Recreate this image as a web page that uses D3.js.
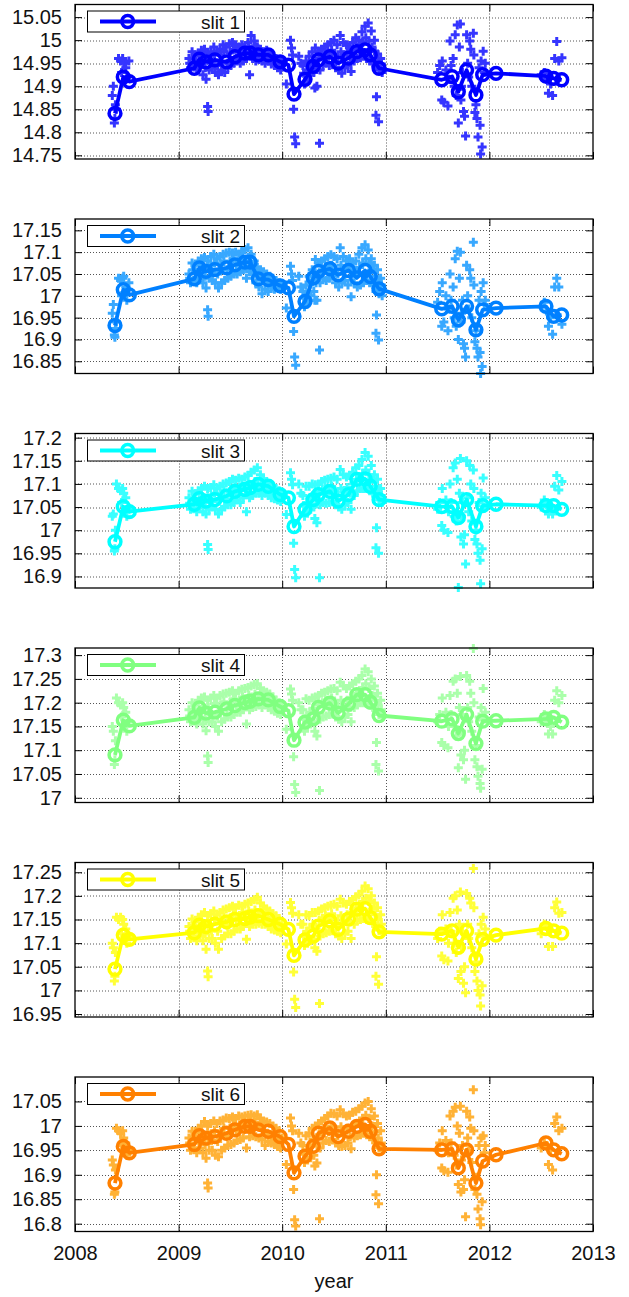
<!DOCTYPE html>
<html>
<head>
<meta charset="utf-8">
<script src="https://cdn.jsdelivr.net/npm/d3@7"></script>
<style>
  html, body { margin: 0; padding: 0; background: #fff; }
  svg { display: block; }
</style>
</head>
<body>
<div id="chart"></div>
<script>
// ---- x axis ----
const years = [2008, 2009, 2010, 2011, 2012, 2013];

// ---- averaged measurements (line + open circles), shared epochs ----
const meanYears = [
  2008.386, 2008.466, 2008.524,
  2009.152, 2009.200, 2009.264, 2009.350, 2009.464, 2009.544, 2009.640, 2009.690, 2009.770, 2009.866, 2009.980, 2010.060,
  2010.114, 2010.220, 2010.300, 2010.350, 2010.460, 2010.540, 2010.640, 2010.720, 2010.800, 2010.850, 2010.935,
  2011.540, 2011.640, 2011.700, 2011.780, 2011.870, 2011.935,
  2012.064, 2012.546, 2012.620, 2012.698
];
const slit1Mean = [
  14.841, 14.920, 14.910,
  14.939, 14.959, 14.953, 14.957, 14.953, 14.964, 14.972, 14.972, 14.968, 14.968, 14.953, 14.946,
  14.883, 14.915, 14.943, 14.957, 14.964, 14.950, 14.961, 14.975, 14.979, 14.968, 14.939,
  14.914, 14.921, 14.888, 14.935, 14.881, 14.925,
  14.928, 14.922, 14.917, 14.914
];
const slit2Mean = [
  16.932, 17.014, 17.002,
  17.039, 17.064, 17.056, 17.060, 17.064, 17.071, 17.077, 17.077, 17.039, 17.037, 17.023, 17.018,
  16.953, 16.987, 17.041, 17.056, 17.062, 17.048, 17.058, 17.041, 17.058, 17.044, 17.016,
  16.970, 16.976, 16.945, 16.976, 16.922, 16.968,
  16.972, 16.976, 16.953, 16.956
];
const slit3Mean = [
  16.975, 17.051, 17.040,
  17.056, 17.068, 17.063, 17.066, 17.074, 17.084, 17.088, 17.092, 17.099, 17.095, 17.077, 17.070,
  17.008, 17.045, 17.066, 17.077, 17.084, 17.063, 17.077, 17.110, 17.111, 17.095, 17.066,
  17.051, 17.051, 17.027, 17.066, 17.008, 17.053,
  17.056, 17.053, 17.053, 17.045
];
const slit4Mean = [
  17.090, 17.163, 17.151,
  17.169, 17.189, 17.178, 17.180, 17.187, 17.194, 17.200, 17.203, 17.208, 17.206, 17.192, 17.183,
  17.121, 17.159, 17.166, 17.190, 17.199, 17.178, 17.197, 17.217, 17.217, 17.201, 17.173,
  17.161, 17.166, 17.135, 17.175, 17.114, 17.161,
  17.162, 17.166, 17.169, 17.159
];
const slit5Mean = [
  17.045, 17.117, 17.108,
  17.122, 17.138, 17.135, 17.140, 17.145, 17.150, 17.152, 17.155, 17.158, 17.150, 17.140, 17.129,
  17.074, 17.107, 17.115, 17.136, 17.147, 17.129, 17.151, 17.172, 17.173, 17.154, 17.124,
  17.119, 17.126, 17.091, 17.126, 17.066, 17.108,
  17.117, 17.131, 17.126, 17.121
];
const slit6Mean = [
  16.883, 16.958, 16.945,
  16.962, 16.980, 16.975, 16.978, 16.985, 16.992, 16.999, 16.999, 16.992, 16.989, 16.978, 16.962,
  16.904, 16.938, 16.958, 16.985, 16.996, 16.978, 16.989, 16.999, 17.003, 16.989, 16.953,
  16.951, 16.953, 16.914, 16.951, 16.883, 16.928,
  16.941, 16.965, 16.951, 16.943
];

// ---- individual measurements (plus markers), shared epochs ----
const scatterYears = [
  // 2008 campaign
  2008.36, 2008.37, 2008.38, 2008.385, 2008.39, 2008.40, 2008.42, 2008.44, 2008.45, 2008.46, 2008.47, 2008.49, 2008.50, 2008.52,
  // 2009 season
  2009.10, 2009.115, 2009.13, 2009.145, 2009.16, 2009.175, 2009.19, 2009.205, 2009.22, 2009.235,
  2009.25, 2009.265, 2009.28, 2009.295, 2009.31, 2009.325, 2009.34, 2009.355, 2009.37, 2009.385,
  2009.40, 2009.415, 2009.43, 2009.445, 2009.46, 2009.475, 2009.49, 2009.505, 2009.52, 2009.535,
  2009.55, 2009.565, 2009.58, 2009.595, 2009.61, 2009.625, 2009.64, 2009.655, 2009.67, 2009.685,
  2009.70, 2009.715, 2009.73, 2009.745, 2009.76, 2009.775, 2009.79, 2009.805, 2009.82, 2009.835,
  2009.85, 2009.865, 2009.88, 2009.895, 2009.91, 2009.925, 2009.94, 2009.955, 2009.97, 2009.985,
  2009.28, 2009.285,
  // turn of 2010
  2010.00, 2010.04, 2010.08, 2010.09, 2010.10, 2010.11, 2010.12, 2010.13, 2010.16, 2010.18,
  // 2010 season
  2010.20, 2010.215, 2010.23, 2010.245, 2010.26, 2010.275, 2010.29, 2010.305, 2010.32, 2010.335,
  2010.35, 2010.365, 2010.38, 2010.395, 2010.41, 2010.425, 2010.44, 2010.455, 2010.47, 2010.485,
  2010.50, 2010.515, 2010.53, 2010.545, 2010.56, 2010.575, 2010.59, 2010.605, 2010.62, 2010.635,
  2010.65, 2010.665, 2010.68, 2010.695, 2010.71, 2010.725, 2010.74, 2010.755, 2010.77, 2010.785,
  2010.80, 2010.815, 2010.83, 2010.845, 2010.86, 2010.875, 2010.89, 2010.905, 2010.92, 2010.935,
  2010.95, 2010.965,
  2010.315, 2010.36, 2010.91, 2010.905, 2010.93,
  // 2011 season
  2011.50, 2011.52, 2011.54, 2011.545, 2011.56, 2011.58, 2011.60, 2011.605, 2011.62, 2011.63,
  2011.65, 2011.66, 2011.67, 2011.68, 2011.69, 2011.70, 2011.71, 2011.72, 2011.725, 2011.73,
  2011.74, 2011.75, 2011.76, 2011.77, 2011.78, 2011.79, 2011.80, 2011.81, 2011.82, 2011.83,
  2011.845, 2011.85, 2011.86, 2011.87, 2011.88, 2011.89, 2011.90, 2011.91, 2011.915, 2011.92,
  2011.93, 2011.94, 2011.95, 2011.96,
  // 2012 season
  2012.50, 2012.53, 2012.55, 2012.57, 2012.59, 2012.61, 2012.63, 2012.65, 2012.67, 2012.70,
  // additional 2009 exposures
  2009.107, 2009.137, 2009.167, 2009.197, 2009.227, 2009.257, 2009.287, 2009.317, 2009.347, 2009.377,
  2009.407, 2009.437, 2009.467, 2009.497, 2009.527, 2009.557, 2009.587, 2009.617, 2009.647, 2009.677,
  2009.707, 2009.737, 2009.767, 2009.797, 2009.827, 2009.857, 2009.887, 2009.917, 2009.947, 2009.977,
  // additional 2010 exposures
  2010.207, 2010.237, 2010.267, 2010.297, 2010.327, 2010.357, 2010.387, 2010.417, 2010.447, 2010.477,
  2010.507, 2010.537, 2010.567, 2010.597, 2010.627, 2010.657, 2010.687, 2010.717, 2010.747, 2010.777,
  2010.807, 2010.837, 2010.867, 2010.897, 2010.927, 2010.957
];

const slit1Scatter = [
  14.880, 14.900, 14.820, 14.830, 14.860, 14.850, 14.960, 14.955, 14.930, 14.960, 14.950, 14.940, 14.920, 14.955,
  14.960, 14.940, 14.975, 14.945, 14.968, 14.935, 14.972, 14.945, 14.978, 14.925,
  14.980, 14.915, 14.972, 14.935, 14.975, 14.940, 14.985, 14.930, 14.975, 14.925,
  14.980, 14.935, 14.990, 14.930, 14.985, 14.940, 14.992, 14.945, 14.995, 14.950,
  14.990, 14.955, 14.985, 14.950, 14.990, 14.955, 14.985, 14.960, 14.995, 14.925,
  15.010, 14.960, 14.998, 14.955, 14.985, 14.958, 14.980, 14.955, 14.975, 14.950,
  14.978, 14.955, 14.972, 14.948, 14.965, 14.945, 14.960, 14.940, 14.958, 14.935,
  14.856, 14.845,
  14.955, 14.905, 15.000, 14.983, 14.968, 14.850, 14.790, 14.775, 14.965, 14.950,
  14.945, 14.905, 14.955, 14.915, 14.965, 14.925, 14.975, 14.930, 14.983, 14.900,
  14.975, 14.935, 14.980, 14.945, 14.985, 14.950, 14.990, 14.945, 14.995, 14.950,
  15.000, 14.940, 14.990, 14.935, 15.010, 14.928, 14.995, 14.940, 14.990, 14.945,
  14.985, 14.932, 14.995, 14.955, 15.005, 14.960, 15.000, 14.962, 15.018, 14.965,
  15.030, 14.960, 15.037, 14.955, 15.020, 14.950, 15.000, 14.945, 14.970, 14.935,
  14.960, 14.930,
  14.896, 14.776, 14.877, 14.837, 14.823,
  14.930, 14.945, 14.870, 14.955, 14.865, 14.935, 14.857, 14.915, 14.998, 14.945,
  14.960, 14.900, 15.012, 14.880, 15.033, 14.820, 14.985, 15.035, 14.870, 14.900,
  14.930, 14.845, 14.835, 14.792, 15.012, 14.950, 14.920, 14.998, 14.980, 14.900,
  15.015, 14.968, 14.843, 14.860, 14.830, 14.790, 14.940, 14.815, 14.753, 14.955,
  14.768, 14.976, 14.930, 14.950,
  14.925, 14.930, 14.915, 14.885, 14.905, 14.880, 14.960, 14.997, 14.955, 14.962,
  14.950, 14.962, 14.955, 14.948, 14.966, 14.940, 14.962, 14.950, 14.970, 14.945,
  14.968, 14.975, 14.950, 14.972, 14.980, 14.962, 14.975, 14.982, 14.970, 14.985,
  14.978, 14.988, 14.968, 14.975, 14.962, 14.968, 14.960, 14.955, 14.950, 14.948,
  14.928, 14.935, 14.948, 14.955, 14.945, 14.962, 14.968, 14.972, 14.965, 14.978,
  14.970, 14.962, 14.975, 14.968, 14.972, 14.960, 14.980, 14.985, 14.988, 14.995,
  15.005, 14.998, 14.985, 14.975, 14.955, 14.948
];
const slit2Scatter = [
  16.960, 16.980, 16.910, 16.905, 16.925, 16.940, 17.040, 17.035, 17.000, 17.040, 17.045, 17.020, 16.990, 17.030,
  17.050, 17.030, 17.075, 17.035, 17.070, 17.030, 17.080, 17.040, 17.085, 17.030,
  17.088, 17.018, 17.080, 17.040, 17.090, 17.035, 17.095, 17.030, 17.085, 17.018,
  17.090, 17.030, 17.095, 17.035, 17.098, 17.040, 17.100, 17.045, 17.098, 17.050,
  17.100, 17.050, 17.095, 17.055, 17.102, 17.060, 17.106, 17.040, 17.110, 17.055,
  17.095, 17.050, 17.080, 17.030, 17.065, 17.020, 17.060, 17.005, 17.055, 17.015,
  17.050, 17.010, 17.045, 17.020, 17.040, 17.015, 17.035, 17.020, 17.030, 17.015,
  16.968, 16.953,
  17.025, 16.972, 17.068, 17.050, 17.035, 16.918, 16.860, 16.841, 17.045, 17.020,
  17.010, 16.975, 17.025, 16.985, 17.045, 17.000, 17.060, 17.010, 17.083, 16.990,
  17.075, 17.030, 17.080, 17.040, 17.085, 17.035, 17.090, 17.040, 17.094, 17.045,
  17.090, 17.030, 17.085, 17.020, 17.110, 17.030, 17.090, 17.035, 17.080, 17.025,
  17.085, 16.998, 17.075, 17.030, 17.080, 17.020, 17.095, 17.025, 17.110, 17.030,
  17.117, 17.035, 17.105, 17.030, 17.085, 17.025, 17.070, 17.010, 17.060, 17.005,
  17.040, 17.000,
  16.990, 16.876, 16.956, 16.914, 16.899,
  16.985, 17.010, 16.930, 17.030, 16.940, 17.000, 16.920, 16.970, 17.050, 16.990,
  17.020, 16.950, 17.085, 16.930, 17.102, 16.900, 17.040, 17.100, 16.940, 16.960,
  16.990, 16.890, 16.880, 16.860, 17.070, 17.000, 16.970, 17.060, 17.040, 16.950,
  17.123, 17.025, 16.895, 16.920, 16.880, 16.860, 16.990, 16.870, 16.822, 17.010,
  16.838, 17.030, 16.980, 16.990,
  16.975, 16.985, 16.965, 16.930, 16.950, 16.912, 17.020, 17.040, 17.020, 16.935,
  17.040, 17.060, 17.052, 17.048, 17.070, 17.045, 17.068, 17.055, 17.075, 17.050,
  17.072, 17.080, 17.060, 17.078, 17.085, 17.070, 17.082, 17.090, 17.075, 17.088,
  17.070, 17.060, 17.045, 17.050, 17.035, 17.040, 17.030, 17.028, 17.025, 17.022,
  16.995, 17.005, 17.025, 17.035, 17.030, 17.050, 17.060, 17.065, 17.055, 17.070,
  17.060, 17.050, 17.070, 17.060, 17.065, 17.045, 17.060, 17.050, 17.065, 17.075,
  17.085, 17.075, 17.060, 17.045, 17.035, 17.025
];
const slit3Scatter = [
  17.030, 17.035, 16.955, 16.960, 17.000, 17.100, 17.090, 17.085, 17.060, 17.090, 17.080, 17.070, 17.030, 17.045,
  17.070, 17.045, 17.084, 17.048, 17.078, 17.040, 17.085, 17.050, 17.090, 17.040,
  17.095, 17.035, 17.090, 17.045, 17.092, 17.050, 17.098, 17.045, 17.090, 17.035,
  17.095, 17.045, 17.100, 17.050, 17.102, 17.055, 17.105, 17.055, 17.110, 17.060,
  17.108, 17.065, 17.112, 17.060, 17.110, 17.070, 17.115, 17.040, 17.118, 17.070,
  17.125, 17.075, 17.130, 17.080, 17.135, 17.080, 17.120, 17.075, 17.110, 17.080,
  17.105, 17.075, 17.100, 17.070, 17.095, 17.068, 17.090, 17.065, 17.085, 17.062,
  16.969, 16.958,
  17.080, 17.034, 17.124, 17.110, 17.098, 16.972, 16.915, 16.897, 17.100, 17.080,
  17.075, 17.030, 17.095, 17.040, 17.095, 17.045, 17.100, 17.050, 17.098, 17.016,
  17.100, 17.055, 17.105, 17.060, 17.108, 17.058, 17.110, 17.060, 17.112, 17.062,
  17.115, 17.055, 17.110, 17.050, 17.131, 17.045, 17.120, 17.055, 17.115, 17.060,
  17.118, 17.045, 17.125, 17.075, 17.135, 17.085, 17.140, 17.090, 17.153, 17.090,
  17.168, 17.090, 17.160, 17.085, 17.140, 17.080, 17.120, 17.075, 17.110, 17.065,
  17.090, 17.060,
  17.025, 16.897, 17.005, 16.962, 16.950,
  17.045, 17.060, 17.010, 17.090, 17.000, 17.065, 16.995, 17.040, 17.100, 17.060,
  17.135, 17.030, 17.145, 17.020, 17.110, 16.876, 17.080, 17.155, 16.985, 17.030,
  17.060, 16.970, 16.990, 16.927, 17.150, 17.070, 17.040, 17.140, 17.100, 17.020,
  17.130, 17.090, 16.980, 17.000, 16.970, 16.950, 17.060, 16.935, 16.884, 17.080,
  16.960, 17.113, 17.050, 17.070,
  17.050, 17.065, 17.055, 17.035, 17.045, 17.035, 17.095, 17.118, 17.087, 17.105,
  17.058, 17.066, 17.062, 17.055, 17.072, 17.060, 17.070, 17.062, 17.080, 17.062,
  17.078, 17.085, 17.068, 17.082, 17.090, 17.078, 17.092, 17.095, 17.085, 17.100,
  17.098, 17.105, 17.090, 17.100, 17.092, 17.088, 17.085, 17.080, 17.078, 17.074,
  17.052, 17.060, 17.070, 17.075, 17.065, 17.082, 17.088, 17.090, 17.085, 17.095,
  17.085, 17.075, 17.090, 17.082, 17.092, 17.080, 17.100, 17.110, 17.115, 17.122,
  17.130, 17.120, 17.110, 17.095, 17.085, 17.075
];
const slit4Scatter = [
  17.150, 17.140, 17.070, 17.080, 17.120, 17.210, 17.200, 17.195, 17.170, 17.200, 17.190, 17.180, 17.140, 17.160,
  17.185, 17.160, 17.200, 17.162, 17.195, 17.155, 17.205, 17.165, 17.210, 17.155,
  17.212, 17.141, 17.205, 17.160, 17.210, 17.160, 17.215, 17.150, 17.210, 17.140,
  17.215, 17.160, 17.218, 17.165, 17.220, 17.170, 17.222, 17.170, 17.225, 17.175,
  17.220, 17.180, 17.225, 17.180, 17.228, 17.185, 17.230, 17.155, 17.232, 17.185,
  17.235, 17.190, 17.238, 17.192, 17.240, 17.195, 17.230, 17.190, 17.225, 17.195,
  17.222, 17.190, 17.218, 17.185, 17.212, 17.182, 17.205, 17.178, 17.200, 17.175,
  17.088, 17.074,
  17.190, 17.144, 17.229, 17.218, 17.205, 17.086, 17.028, 17.011, 17.200, 17.185,
  17.185, 17.140, 17.208, 17.150, 17.205, 17.155, 17.210, 17.160, 17.212, 17.130,
  17.215, 17.165, 17.220, 17.170, 17.222, 17.172, 17.225, 17.175, 17.229, 17.178,
  17.230, 17.170, 17.225, 17.165, 17.243, 17.160, 17.235, 17.170, 17.230, 17.175,
  17.235, 17.160, 17.240, 17.190, 17.245, 17.195, 17.250, 17.200, 17.257, 17.200,
  17.271, 17.200, 17.265, 17.195, 17.250, 17.190, 17.235, 17.185, 17.220, 17.175,
  17.205, 17.170,
  17.140, 17.015, 17.116, 17.070, 17.056,
  17.160, 17.175, 17.116, 17.210, 17.110, 17.180, 17.105, 17.150, 17.215, 17.175,
  17.245, 17.150, 17.250, 17.130, 17.220, 17.063, 17.190, 17.255, 17.090, 17.140,
  17.175, 17.080, 17.100, 17.039, 17.257, 17.190, 17.160, 17.245, 17.220, 17.140,
  17.314, 17.200, 17.080, 17.110, 17.065, 17.045, 17.170, 17.030, 17.020, 17.190,
  17.060, 17.230, 17.165, 17.180,
  17.160, 17.175, 17.165, 17.134, 17.150, 17.134, 17.205, 17.225, 17.200, 17.215,
  17.172, 17.185, 17.178, 17.170, 17.192, 17.168, 17.190, 17.175, 17.198, 17.172,
  17.195, 17.202, 17.185, 17.200, 17.208, 17.195, 17.205, 17.212, 17.198, 17.215,
  17.210, 17.218, 17.205, 17.215, 17.208, 17.205, 17.200, 17.196, 17.192, 17.188,
  17.165, 17.172, 17.180, 17.188, 17.178, 17.195, 17.200, 17.205, 17.198, 17.210,
  17.200, 17.190, 17.205, 17.195, 17.205, 17.190, 17.210, 17.220, 17.225, 17.232,
  17.240, 17.230, 17.215, 17.205, 17.195, 17.185
];
const slit5Scatter = [
  17.100, 17.090, 17.020, 17.030, 17.080, 17.155, 17.150, 17.155, 17.120, 17.150, 17.140, 17.130, 17.100, 17.115,
  17.135, 17.110, 17.151, 17.115, 17.145, 17.105, 17.155, 17.115, 17.160, 17.105,
  17.165, 17.087, 17.158, 17.110, 17.162, 17.110, 17.168, 17.100, 17.160, 17.087,
  17.165, 17.110, 17.170, 17.115, 17.172, 17.120, 17.175, 17.120, 17.178, 17.125,
  17.175, 17.130, 17.180, 17.130, 17.178, 17.135, 17.182, 17.108, 17.185, 17.135,
  17.188, 17.140, 17.192, 17.140, 17.197, 17.142, 17.185, 17.140, 17.178, 17.140,
  17.172, 17.135, 17.168, 17.130, 17.162, 17.128, 17.158, 17.125, 17.152, 17.122,
  17.041, 17.029,
  17.140, 17.098, 17.186, 17.175, 17.163, 17.039, 16.981, 16.964, 17.160, 17.140,
  17.140, 17.095, 17.160, 17.100, 17.158, 17.105, 17.165, 17.108, 17.165, 17.083,
  17.168, 17.115, 17.172, 17.120, 17.175, 17.122, 17.178, 17.125, 17.180, 17.128,
  17.182, 17.120, 17.178, 17.115, 17.193, 17.110, 17.185, 17.120, 17.182, 17.125,
  17.188, 17.110, 17.192, 17.140, 17.198, 17.148, 17.202, 17.150, 17.210, 17.152,
  17.221, 17.150, 17.215, 17.148, 17.200, 17.142, 17.185, 17.135, 17.175, 17.128,
  17.160, 17.120,
  17.090, 16.972, 17.071, 17.030, 17.013,
  17.110, 17.125, 17.073, 17.160, 17.065, 17.130, 17.062, 17.100, 17.165, 17.125,
  17.195, 17.100, 17.200, 17.080, 17.170, 17.025, 17.140, 17.208, 17.040, 17.090,
  17.125, 17.015, 17.050, 16.995, 17.205, 17.140, 17.110, 17.195, 17.185, 17.090,
  17.258, 17.175, 17.040, 17.060, 17.020, 17.000, 17.120, 16.990, 16.967, 17.140,
  17.010, 17.155, 17.115, 17.130,
  17.120, 17.140, 17.135, 17.093, 17.125, 17.093, 17.175, 17.187, 17.163, 17.165,
  17.125, 17.138, 17.130, 17.122, 17.142, 17.120, 17.140, 17.128, 17.150, 17.125,
  17.148, 17.155, 17.138, 17.152, 17.160, 17.148, 17.158, 17.165, 17.150, 17.168,
  17.162, 17.170, 17.158, 17.165, 17.158, 17.152, 17.148, 17.145, 17.140, 17.136,
  17.115, 17.125, 17.132, 17.140, 17.130, 17.148, 17.152, 17.158, 17.150, 17.162,
  17.152, 17.142, 17.158, 17.148, 17.160, 17.145, 17.165, 17.175, 17.180, 17.188,
  17.195, 17.188, 17.172, 17.160, 17.150, 17.140
];
const slit6Scatter = [
  16.930, 16.920, 16.860, 16.865, 16.910, 16.995, 16.990, 16.985, 16.960, 16.990, 16.975, 16.965, 16.940, 16.950,
  16.975, 16.950, 16.989, 16.955, 16.985, 16.945, 16.995, 16.955, 17.000, 16.945,
  17.009, 16.934, 17.000, 16.950, 17.005, 16.950, 17.010, 16.940, 17.005, 16.937,
  17.010, 16.950, 17.012, 16.955, 17.016, 16.960, 17.015, 16.962, 17.018, 16.965,
  17.015, 16.970, 17.020, 16.972, 17.018, 16.975, 17.020, 16.955, 17.022, 16.978,
  17.023, 16.980, 17.020, 16.978, 17.023, 16.975, 17.015, 16.972, 17.010, 16.960,
  17.008, 16.968, 17.005, 16.965, 17.000, 16.962, 16.995, 16.958, 16.990, 16.955,
  16.883, 16.873,
  16.975, 16.921, 17.016, 17.000, 16.990, 16.870, 16.808, 16.795, 16.985, 16.965,
  16.960, 16.925, 16.980, 16.930, 16.985, 16.935, 16.995, 16.940, 17.000, 16.924,
  17.005, 16.955, 17.010, 16.965, 17.015, 16.970, 17.020, 16.968, 17.026, 16.972,
  17.025, 16.965, 17.020, 16.960, 17.033, 16.958, 17.025, 16.960, 17.020, 16.965,
  17.022, 16.953, 17.028, 16.975, 17.030, 16.980, 17.035, 16.982, 17.040, 16.985,
  17.047, 16.982, 17.050, 16.978, 17.035, 16.972, 17.020, 16.965, 17.005, 16.955,
  16.990, 16.950,
  16.918, 16.810, 16.900, 16.859, 16.841,
  16.950, 16.965, 16.914, 16.990, 16.908, 16.970, 16.905, 16.945, 17.020, 16.965,
  17.030, 16.940, 17.038, 16.920, 17.000, 16.880, 16.985, 17.040, 16.865, 16.930,
  16.960, 16.870, 16.890, 16.814, 17.030, 16.975, 16.950, 17.018, 16.995, 16.925,
  17.074, 16.990, 16.870, 16.895, 16.860, 16.830, 16.960, 16.810, 16.798, 16.975,
  16.845, 16.980, 16.945, 16.960,
  16.955, 16.965, 16.960, 16.921, 16.950, 16.910, 17.005, 17.018, 16.990, 16.995,
  16.965, 16.978, 16.972, 16.965, 16.985, 16.962, 16.982, 16.970, 16.990, 16.968,
  16.988, 16.995, 16.980, 16.995, 17.002, 16.990, 17.000, 17.008, 16.995, 17.010,
  17.005, 17.008, 16.998, 17.000, 16.990, 16.985, 16.982, 16.978, 16.975, 16.970,
  16.942, 16.950, 16.960, 16.972, 16.965, 16.982, 16.990, 16.995, 16.988, 17.000,
  16.992, 16.980, 16.998, 16.985, 16.995, 16.978, 16.998, 17.005, 17.010, 17.015,
  17.022, 17.015, 17.000, 16.988, 16.975, 16.965
];

// ---- per-panel y ranges and tick values ----
const yRange1 = [14.742, 15.0774];
const yRange2 = [16.822, 17.176];
const yRange3 = [16.875, 17.209];
const yRange4 = [16.990, 17.315];
const yRange5 = [16.9437, 17.2706];
const yRange6 = [16.784, 17.100];
const yTicks1 = [14.75, 14.8, 14.85, 14.9, 14.95, 15, 15.05];
const yTicks2 = [16.85, 16.9, 16.95, 17, 17.05, 17.1, 17.15];
const yTicks3 = [16.9, 16.95, 17, 17.05, 17.1, 17.15, 17.2];
const yTicks4 = [17, 17.05, 17.1, 17.15, 17.2, 17.25, 17.3];
const yTicks5 = [16.95, 17, 17.05, 17.1, 17.15, 17.2, 17.25];
const yTicks6 = [16.8, 16.85, 16.9, 16.95, 17, 17.05];

const slitNames = ["slit 1", "slit 2", "slit 3", "slit 4", "slit 5", "slit 6"];
const lineColors  = ["#0000ff", "#0080ff", "#00ffff", "#80ff80", "#ffff00", "#ff8000"];
const pointColors = ["#3535ff", "#38a8ff", "#38ffff", "#aaffaa", "#ffff38", "#ffb236"];
const xTitle = "year";

const panels = [
  { name: slitNames[0], mean: slit1Mean, scatter: slit1Scatter, range: yRange1, ticks: yTicks1 },
  { name: slitNames[1], mean: slit2Mean, scatter: slit2Scatter, range: yRange2, ticks: yTicks2 },
  { name: slitNames[2], mean: slit3Mean, scatter: slit3Scatter, range: yRange3, ticks: yTicks3 },
  { name: slitNames[3], mean: slit4Mean, scatter: slit4Scatter, range: yRange4, ticks: yTicks4 },
  { name: slitNames[4], mean: slit5Mean, scatter: slit5Scatter, range: yRange5, ticks: yTicks5 },
  { name: slitNames[5], mean: slit6Mean, scatter: slit6Scatter, range: yRange6, ticks: yTicks6 }
];

// ---- layout ----
const W = 629, H = 1297;
const plotLeft = 75, plotRight = 593;
const firstTop = 4.5, panelStep = 214.5, panelH = 154.5;
const FONT = "'Liberation Sans', Arial, Helvetica, sans-serif";
const tickLen = 7;

const svg = d3.select("#chart").append("svg")
  .attr("width", W).attr("height", H)
  .attr("viewBox", `0 0 ${W} ${H}`)
  .style("font-family", FONT);

const x = d3.scaleLinear().domain([years[0], years[years.length - 1]]).range([plotLeft, plotRight]);
const fmt = v => String(+v.toFixed(2));
const plusPath = "M-4.5,0H4.5M0,-4.5V4.5";

panels.forEach((p, i) => {
  const top = firstTop + i * panelStep;
  const y = d3.scaleLinear().domain(p.range).range([panelH, 0]);
  const g = svg.append("g").attr("transform", `translate(0,${top})`);

  // dotted grid
  const grid = g.append("g").attr("stroke", "#555").attr("stroke-width", 1)
    .attr("stroke-dasharray", "1,2").attr("fill", "none");
  grid.selectAll("line.h").data(p.ticks).join("line").attr("class", "h")
    .attr("x1", plotLeft).attr("x2", plotRight)
    .attr("y1", d => Math.round(y(d)) + 0.5).attr("y2", d => Math.round(y(d)) + 0.5);
  grid.selectAll("line.v").data(years.slice(1, -1)).join("line").attr("class", "v")
    .attr("x1", d => Math.round(x(d)) + 0.5).attr("x2", d => Math.round(x(d)) + 0.5)
    .attr("y1", 0).attr("y2", panelH);

  // axes with inward ticks on all four sides
  const yLeft = g.append("g").attr("transform", `translate(${plotLeft},0)`)
    .call(d3.axisLeft(y).tickValues(p.ticks).tickSize(-tickLen).tickPadding(13).tickFormat(fmt));
  const yRight = g.append("g").attr("transform", `translate(${plotRight},0)`)
    .call(d3.axisRight(y).tickValues(p.ticks).tickSize(-tickLen).tickFormat(""));
  const xTop = g.append("g").attr("transform", `translate(0,0)`)
    .call(d3.axisTop(x).tickValues(years).tickSize(-tickLen).tickFormat(""));
  const xBottom = g.append("g").attr("transform", `translate(0,${panelH})`)
    .call(d3.axisBottom(x).tickValues(years).tickSize(-tickLen).tickPadding(14)
      .tickFormat(i === panels.length - 1 ? d3.format("d") : ""));
  [yLeft, yRight, xTop, xBottom].forEach(a => {
    a.select(".domain").remove();
    a.selectAll(".tick line").attr("stroke", "#000").attr("stroke-width", 1);
    a.selectAll("text").attr("fill", "#111").style("font-size", "20px").style("font-family", FONT);
  });

  // individual measurements
  const n = Math.min(scatterYears.length, p.scatter.length);
  g.append("g").selectAll("path").data(d3.range(n)).join("path")
    .attr("d", plusPath)
    .attr("transform", k => `translate(${x(scatterYears[k])},${y(p.scatter[k])})`)
    .attr("fill", "none").attr("stroke", pointColors[i]).attr("stroke-width", 3);

  // averages: line + open circles
  const pts = meanYears.map((t, k) => [t, p.mean[k]]);
  g.append("path").datum(pts)
    .attr("d", d3.line().x(d => x(d[0])).y(d => y(d[1])))
    .attr("fill", "none").attr("stroke", lineColors[i]).attr("stroke-width", 3.8)
    .attr("stroke-linejoin", "round");
  g.append("g").selectAll("circle").data(pts).join("circle")
    .attr("cx", d => x(d[0])).attr("cy", d => y(d[1])).attr("r", 5.9)
    .attr("fill", "none").attr("stroke", lineColors[i]).attr("stroke-width", 3.5);

  // frame
  g.append("rect").attr("x", plotLeft).attr("y", 0)
    .attr("width", plotRight - plotLeft).attr("height", panelH)
    .attr("fill", "none").attr("stroke", "#000").attr("stroke-width", 1.3);

  // legend
  const lg = g.append("g");
  lg.append("rect").attr("x", 87.5).attr("y", 6.5).attr("width", 157).attr("height", 21)
    .attr("fill", "#fff").attr("stroke", "#000").attr("stroke-width", 1);
  lg.append("line").attr("x1", 100).attr("x2", 156).attr("y1", 17).attr("y2", 17)
    .attr("stroke", lineColors[i]).attr("stroke-width", 3.8);
  lg.append("circle").attr("cx", 127.7).attr("cy", 17).attr("r", 5.9)
    .attr("fill", "none").attr("stroke", lineColors[i]).attr("stroke-width", 3.5);
  lg.append("text").attr("x", 240).attr("y", 24.2).attr("text-anchor", "end")
    .style("font-size", "19px").attr("fill", "#111").text(p.name);
});

// x axis title
svg.append("text")
  .attr("x", (plotLeft + plotRight) / 2).attr("y", 1288)
  .attr("text-anchor", "middle").style("font-size", "20px").attr("fill", "#111")
  .text(xTitle);
</script>
</body>
</html>
